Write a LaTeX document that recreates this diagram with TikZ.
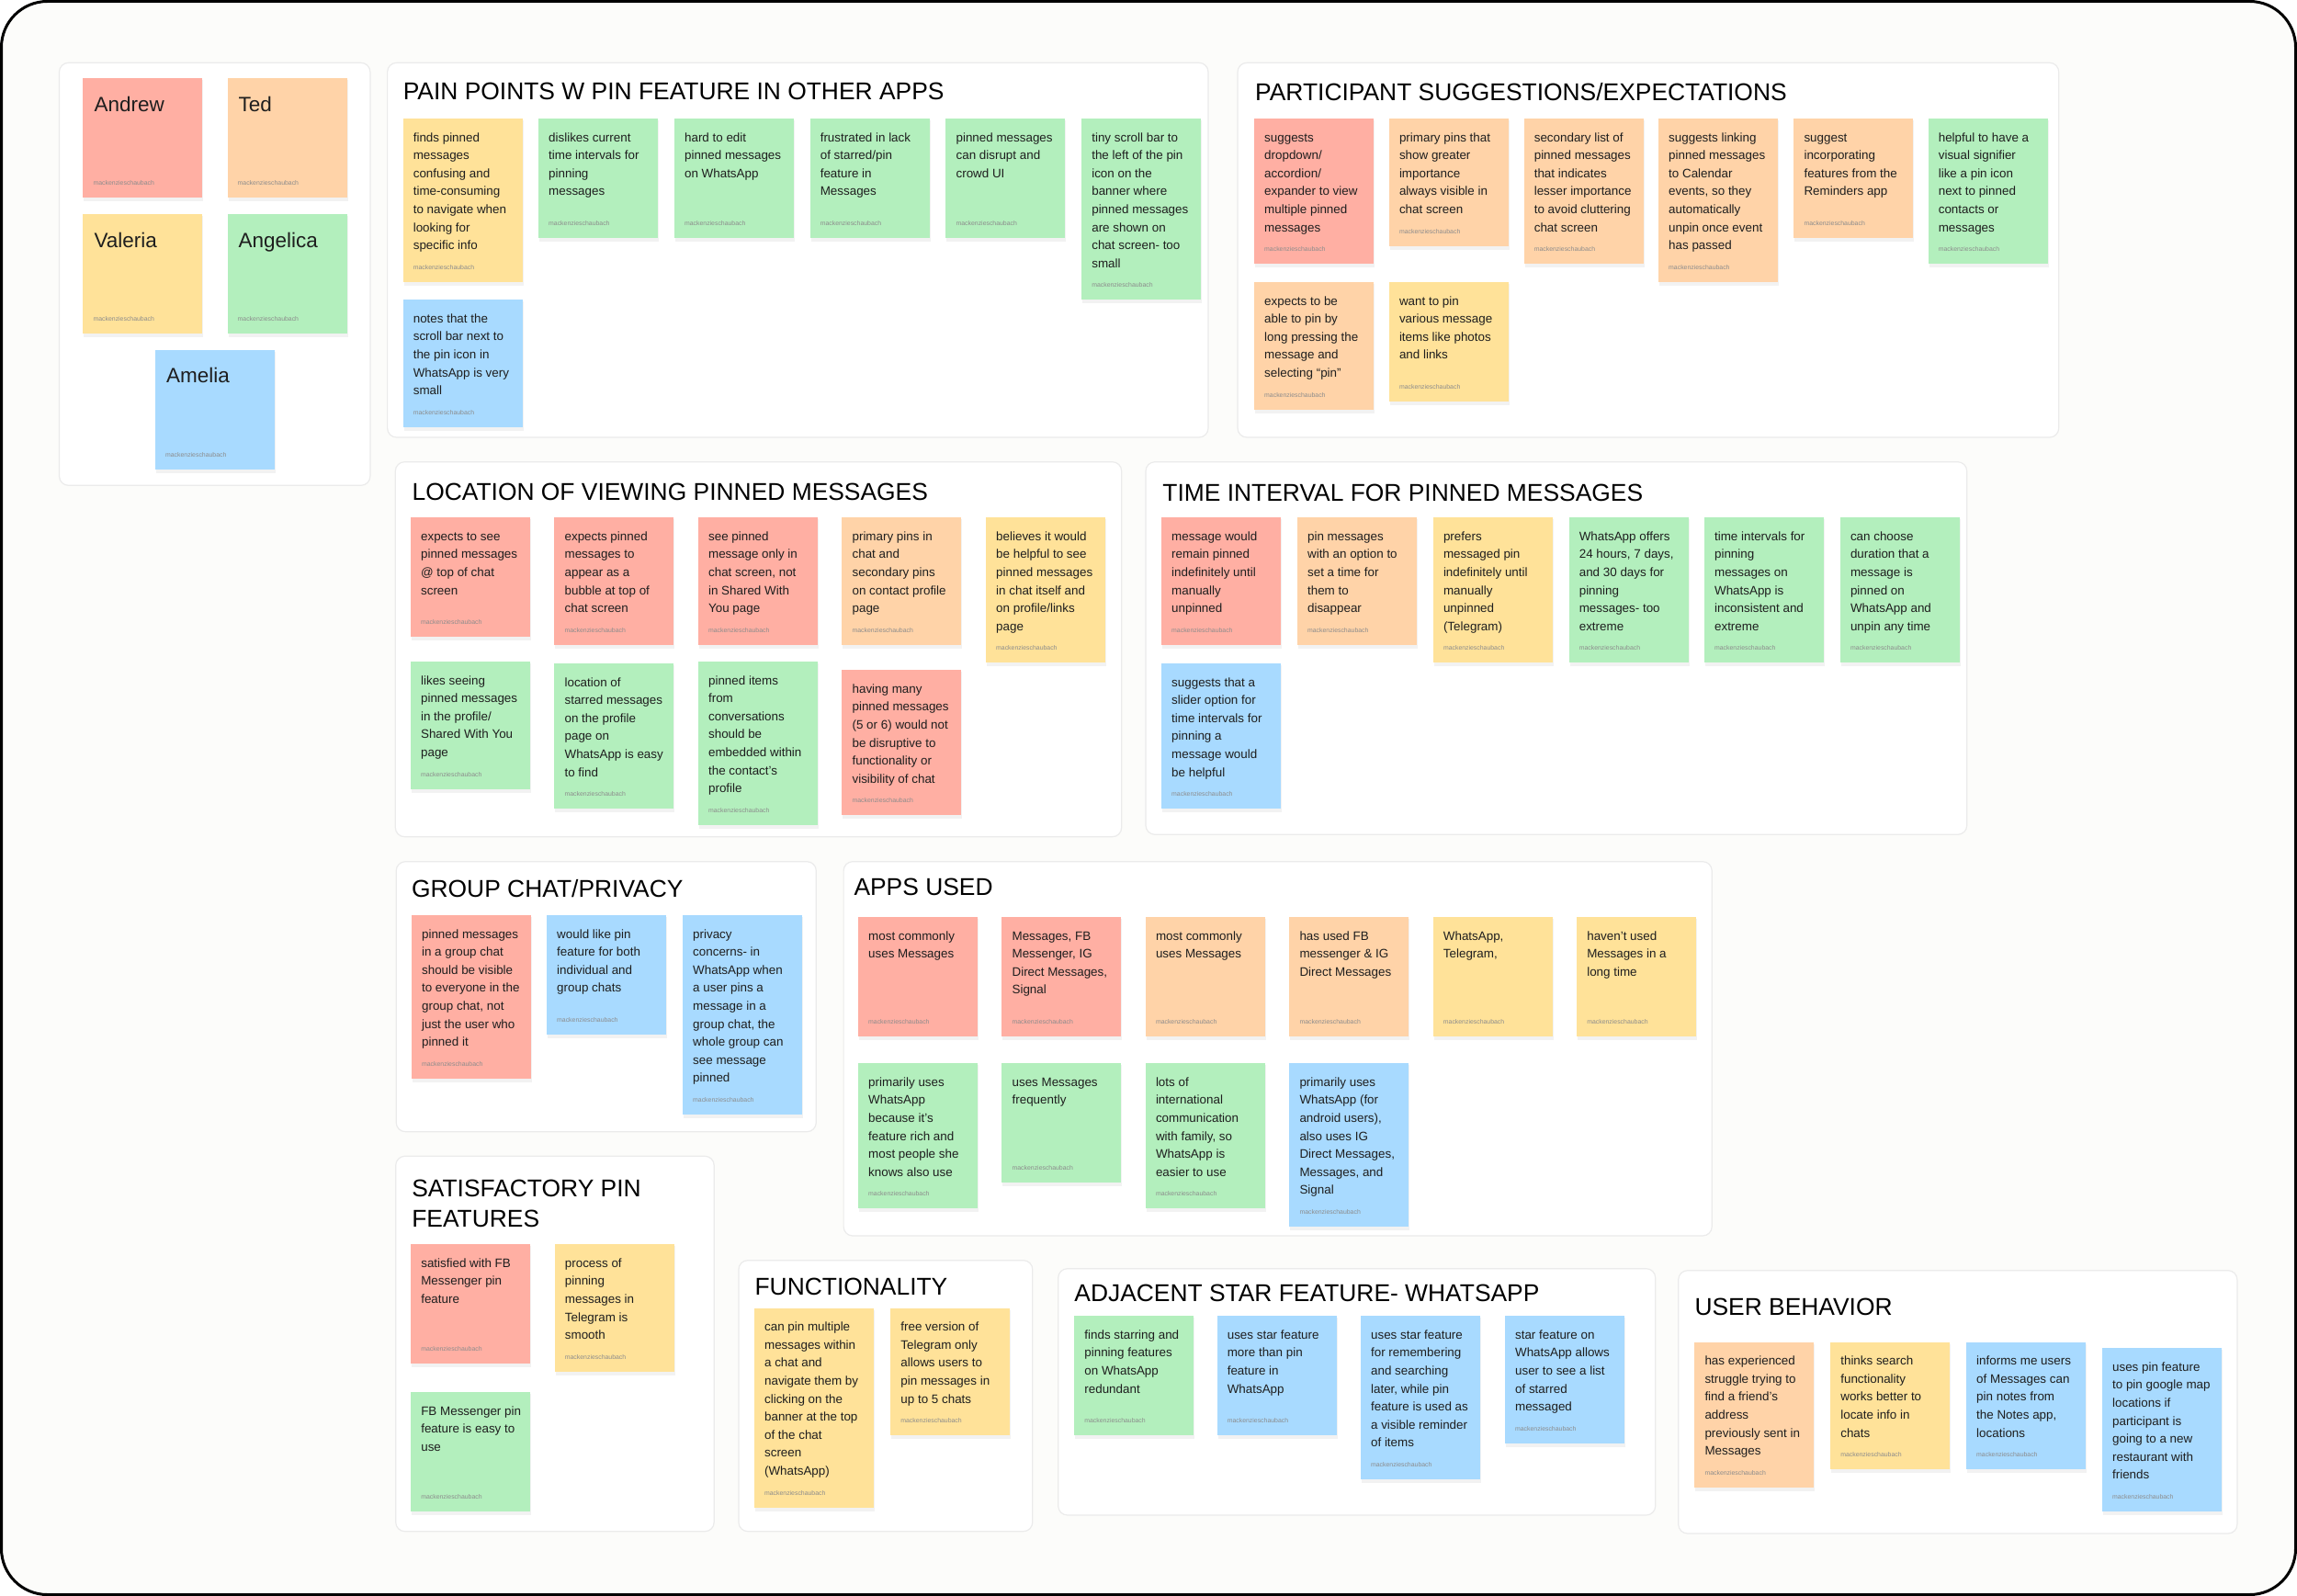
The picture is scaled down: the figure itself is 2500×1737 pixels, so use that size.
\documentclass[tikz,border=0pt]{standalone}
\usepackage{fontspec}
\setmainfont{Liberation Sans}
\usetikzlibrary{positioning}
\definecolor{sred}{HTML}{FFAFA3}
\definecolor{sorange}{HTML}{FFD3A8}
\definecolor{syellow}{HTML}{FFE299}
\definecolor{sgreen}{HTML}{B3EFBD}
\definecolor{sblue}{HTML}{A8DAFF}
\definecolor{ink}{HTML}{1E1E1E}
\definecolor{framegray}{HTML}{EBEBEB}
\definecolor{bgcol}{HTML}{FCFCFA}
\tikzset{
  sticky/.style={draw=none, anchor=north west, minimum width=130pt, inner sep=0pt, outer sep=0pt},
  stxt/.style={anchor=base west, inner sep=0pt, font=\fontsize{13.4}{19.6}\selectfont, text=ink},
  ntxt/.style={anchor=base west, inner sep=0pt, font=\fontsize{22.5}{27}\selectfont, text=ink},
  attr/.style={anchor=base west, inner sep=0pt, font=\fontsize{6.9}{8}\selectfont, text=black!45},
  frm/.style={draw=framegray, fill=white, line width=1.2pt, rounded corners=10pt},
  ttl/.style={anchor=base west, inner sep=0pt, font=\fontsize{26.4}{32.7}\selectfont, text=black},
  shd/.style={fill=black, opacity=0.05},
}
% name, x, y, height, colour, text
\newcommand\stk[6]{%
  \fill[shd] (#2+1,#3+2) rectangle (#2+131,#3+#4+4);
  \node[sticky, fill=#5, minimum height=#4pt] (#1) at (#2,#3) {};
  \node[stxt] (#1-t) at ([xshift=11pt,yshift=-25pt]#1.north west) {\parbox[t]{122pt}{\raggedright #6}};
  \node[attr] (#1-a) at ([xshift=11pt,yshift=13.5pt]#1.south west) {mackenzieschaubach};
}
\newcommand\nstk[5]{%
  \fill[shd] (#2+1,#3+2) rectangle (#2+131,#3+134);
  \node[sticky, fill=#4, minimum height=130pt] (#1) at (#2,#3) {};
  \node[ntxt] (#1-t) at ([xshift=12pt,yshift=-36pt]#1.north west) {#5};
  \node[attr] (#1-a) at ([xshift=11pt,yshift=13.5pt]#1.south west) {mackenzieschaubach};
}
\begin{document}
\begin{tikzpicture}[x=1pt,y=-1pt]
\useasboundingbox (0,0) rectangle (2500,1737);
\fill[white] (0,0) rectangle (2500,1737);
\draw[line width=3pt, fill=bgcol, rounded corners=50pt] (1.5,1.5) rectangle (2498.5,1735.5);

% ---------- frames ----------
\draw[frm] (64.5,68.3) rectangle (402.9,528.3);
\draw[frm] (421.6,68.3) rectangle (1315,476);
\draw[frm] (1347,68.3) rectangle (2240.7,476);
\draw[frm] (430.3,502.7) rectangle (1220.7,910.7);
\draw[frm] (1247,502.7) rectangle (2140.7,908.3);
\draw[frm] (431.2,937.7) rectangle (888.3,1231.7);
\draw[frm] (918.1,937.7) rectangle (1863.2,1345);
\draw[frm] (430.7,1258.3) rectangle (777.2,1666.7);
\draw[frm] (803.9,1371.7) rectangle (1123.8,1666.7);
\draw[frm] (1151.7,1380.7) rectangle (1801.7,1649);
\draw[frm] (1826.7,1382.7) rectangle (2434.9,1669);

% ---------- titles ----------
\node[ttl] (t1) at (438.6,108.8) {PAIN POINTS W PIN FEATURE IN OTHER APPS};
\node[ttl] (t2) at (1366,109.5) {PARTICIPANT SUGGESTIONS/EXPECTATIONS};
\node[ttl] (t3) at (448.4,544.5) {LOCATION OF VIEWING PINNED MESSAGES};
\node[ttl] (t4) at (1265.2,545.5) {TIME INTERVAL FOR PINNED MESSAGES};
\node[ttl] (t5) at (447.9,976.7) {GROUP CHAT/PRIVACY};
\node[ttl] (t6) at (929.3,974) {APPS USED};
\node[ttl] (t7) at (448.1,1302.3) {\parbox[t]{320pt}{SATISFACTORY PIN\\FEATURES}};
\node[ttl] (t8) at (821.4,1409.3) {FUNCTIONALITY};
\node[ttl] (t9) at (1169.2,1416.7) {ADJACENT STAR FEATURE- WHATSAPP};
\node[ttl] (t10) at (1844.3,1431.7) {USER BEHAVIOR};

% ---------- participants ----------
\nstk{andrew}{90.4}{85}{sred}{Andrew}
\nstk{ted}{247.5}{85}{sorange}{Ted}
\nstk{valeria}{90.4}{233}{syellow}{Valeria}
\nstk{angelica}{247.5}{233}{sgreen}{Angelica}
\nstk{amelia}{168.9}{380.7}{sblue}{Amelia}

% ---------- pain points ----------
\stk{p1}{438.6}{129}{177.7}{syellow}{finds pinned\\messages\\confusing and\\time-consuming\\to navigate when\\looking for\\specific info}
\stk{p2}{586}{129}{130}{sgreen}{dislikes current\\time intervals for\\pinning\\messages}
\stk{p3}{733.9}{129}{130}{sgreen}{hard to edit\\pinned messages\\on WhatsApp}
\stk{p4}{881.6}{129}{130}{sgreen}{frustrated in lack\\of starred/pin\\feature in\\Messages}
\stk{p5}{1029.4}{129}{130}{sgreen}{pinned messages\\can disrupt and\\crowd UI}
\stk{p6}{1177.1}{129}{197.3}{sgreen}{tiny scroll bar to\\the left of the pin\\icon on the\\banner where\\pinned messages\\are shown on\\chat screen- too\\small}
\stk{p7}{438.6}{326.3}{138.5}{sblue}{notes that the\\scroll bar next to\\the pin icon in\\WhatsApp is very\\small}

% ---------- suggestions ----------
\stk{s1}{1365}{129}{158.1}{sred}{suggests\\dropdown/\\accordion/\\expander to view\\multiple pinned\\messages}
\stk{s2}{1511.8}{129}{138.5}{sorange}{primary pins that\\show greater\\importance\\always visible in\\chat screen}
\stk{s3}{1658.6}{129}{158.1}{sorange}{secondary list of\\pinned messages\\that indicates\\lesser importance\\to avoid cluttering\\chat screen}
\stk{s4}{1805}{129}{177.7}{sorange}{suggests linking\\pinned messages\\to Calendar\\events, so they\\automatically\\unpin once event\\has passed}
\stk{s5}{1952.3}{129}{130}{sorange}{suggest\\incorporating\\features from the\\Reminders app}
\stk{s6}{2098.6}{129}{158.1}{sgreen}{helpful to have a\\visual signifier\\like a pin icon\\next to pinned\\contacts or\\messages}
\stk{s7}{1365}{307}{138.5}{sorange}{expects to be\\able to pin by\\long pressing the\\message and\\selecting “pin”}
\stk{s8}{1511.8}{307}{130}{syellow}{want to pin\\various message\\items like photos\\and links}

% ---------- location ----------
\stk{l1}{446.9}{563.3}{130}{sred}{expects to see\\pinned messages\\@ top of chat\\screen}
\stk{l2}{603.4}{563.3}{138.5}{sred}{expects pinned\\messages to\\appear as a\\bubble at top of\\chat screen}
\stk{l3}{759.9}{563.3}{138.5}{sred}{see pinned\\message only in\\chat screen, not\\in Shared With\\You page}
\stk{l4}{916.4}{563.3}{138.5}{sorange}{primary pins in\\chat and\\secondary pins\\on contact profile\\page}
\stk{l5}{1073}{563.3}{158.1}{syellow}{believes it would\\be helpful to see\\pinned messages\\in chat itself and\\on profile/links\\page}
\stk{l6}{446.9}{720}{138.5}{sgreen}{likes seeing\\pinned messages\\in the profile/\\Shared With You\\page}
\stk{l7}{603.4}{722}{158.1}{sgreen}{location of\\starred messages\\on the profile\\page on\\WhatsApp is easy\\to find}
\stk{l8}{759.9}{720}{177.7}{sgreen}{pinned items\\from\\conversations\\should be\\embedded within\\the contact’s\\profile}
\stk{l9}{916.4}{729.3}{158.1}{sred}{having many\\pinned messages\\(5 or 6) would not\\be disruptive to\\functionality or\\visibility of chat}

% ---------- time interval ----------
\stk{ti1}{1264}{563.3}{138.5}{sred}{message would\\remain pinned\\indefinitely until\\manually\\unpinned}
\stk{ti2}{1411.9}{563.3}{138.5}{sorange}{pin messages\\with an option to\\set a time for\\them to\\disappear}
\stk{ti3}{1559.8}{563.3}{158.1}{syellow}{prefers\\messaged pin\\indefinitely until\\manually\\unpinned\\(Telegram)}
\stk{ti4}{1707.6}{563.3}{158.1}{sgreen}{WhatsApp offers\\24 hours, 7 days,\\and 30 days for\\pinning\\messages- too\\extreme}
\stk{ti5}{1854.9}{563.3}{158.1}{sgreen}{time intervals for\\pinning\\messages on\\WhatsApp is\\inconsistent and\\extreme}
\stk{ti6}{2002.8}{563.3}{158.1}{sgreen}{can choose\\duration that a\\message is\\pinned on\\WhatsApp and\\unpin any time}
\stk{ti7}{1264}{722}{158.1}{sblue}{suggests that a\\slider option for\\time intervals for\\pinning a\\message would\\be helpful}

% ---------- group chat ----------
\stk{g1}{447.9}{996}{177.7}{sred}{pinned messages\\in a group chat\\should be visible\\to everyone in the\\group chat, not\\just the user who\\pinned it}
\stk{g2}{595}{996}{130}{sblue}{would like pin\\feature for both\\individual and\\group chats}
\stk{g3}{743}{996}{216.9}{sblue}{privacy\\concerns- in\\WhatsApp when\\a user pins a\\message in a\\group chat, the\\whole group can\\see message\\pinned}

% ---------- apps used ----------
\stk{a1}{934}{998}{130}{sred}{most commonly\\uses Messages}
\stk{a2}{1090.4}{998}{130}{sred}{Messages, FB\\Messenger, IG\\Direct Messages,\\Signal}
\stk{a3}{1246.8}{998}{130}{sorange}{most commonly\\uses Messages}
\stk{a4}{1403.3}{998}{130}{sorange}{has used FB\\messenger \& IG\\Direct Messages}
\stk{a5}{1559.7}{998}{130}{syellow}{WhatsApp,\\Telegram,}
\stk{a6}{1716.1}{998}{130}{syellow}{haven’t used\\Messages in a\\long time}
\stk{a7}{934}{1157.3}{158.1}{sgreen}{primarily uses\\WhatsApp\\because it’s\\feature rich and\\most people she\\knows also use}
\stk{a8}{1090.4}{1157.3}{130}{sgreen}{uses Messages\\frequently}
\stk{a9}{1246.8}{1157.3}{158.1}{sgreen}{lots of\\international\\communication\\with family, so\\WhatsApp is\\easier to use}
\stk{a10}{1403.3}{1157.3}{177.7}{sblue}{primarily uses\\WhatsApp (for\\android users),\\also uses IG\\Direct Messages,\\Messages, and\\Signal}

% ---------- satisfactory ----------
\stk{f1}{447.1}{1354.3}{130}{sred}{satisfied with FB\\Messenger pin\\feature}
\stk{f2}{603.7}{1354.3}{138.5}{syellow}{process of\\pinning\\messages in\\Telegram is\\smooth}
\stk{f3}{447.1}{1515}{130}{sgreen}{FB Messenger pin\\feature is easy to\\use}

% ---------- functionality ----------
\stk{u1}{820.9}{1423.7}{216.9}{syellow}{can pin multiple\\messages within\\a chat and\\navigate them by\\clicking on the\\banner at the top\\of the chat\\screen\\(WhatsApp)}
\stk{u2}{969.2}{1423.7}{138.5}{syellow}{free version of\\Telegram only\\allows users to\\pin messages in\\up to 5 chats}

% ---------- adjacent star ----------
\stk{j1}{1169.2}{1432.3}{130}{sgreen}{finds starring and\\pinning features\\on WhatsApp\\redundant}
\stk{j2}{1324.6}{1432.3}{130}{sblue}{uses star feature\\more than pin\\feature in\\WhatsApp}
\stk{j3}{1480.9}{1432.3}{177.7}{sblue}{uses star feature\\for remembering\\and searching\\later, while pin\\feature is used as\\a visible reminder\\of items}
\stk{j4}{1637.9}{1432.3}{138.5}{sblue}{star feature on\\WhatsApp allows\\user to see a list\\of starred\\messaged}

% ---------- user behavior ----------
\stk{b1}{1844.3}{1460.7}{158.1}{sorange}{has experienced\\struggle trying to\\find a friend’s\\address\\previously sent in\\Messages}
\stk{b2}{1992.1}{1460.7}{138.5}{syellow}{thinks search\\functionality\\works better to\\locate info in\\chats}
\stk{b3}{2140}{1460.7}{138.5}{sblue}{informs me users\\of Messages can\\pin notes from\\the Notes app,\\locations}
\stk{b4}{2287.9}{1467.3}{177.7}{sblue}{uses pin feature\\to pin google map\\locations if\\participant is\\going to a new\\restaurant with\\friends}
\end{tikzpicture}
\end{document}
